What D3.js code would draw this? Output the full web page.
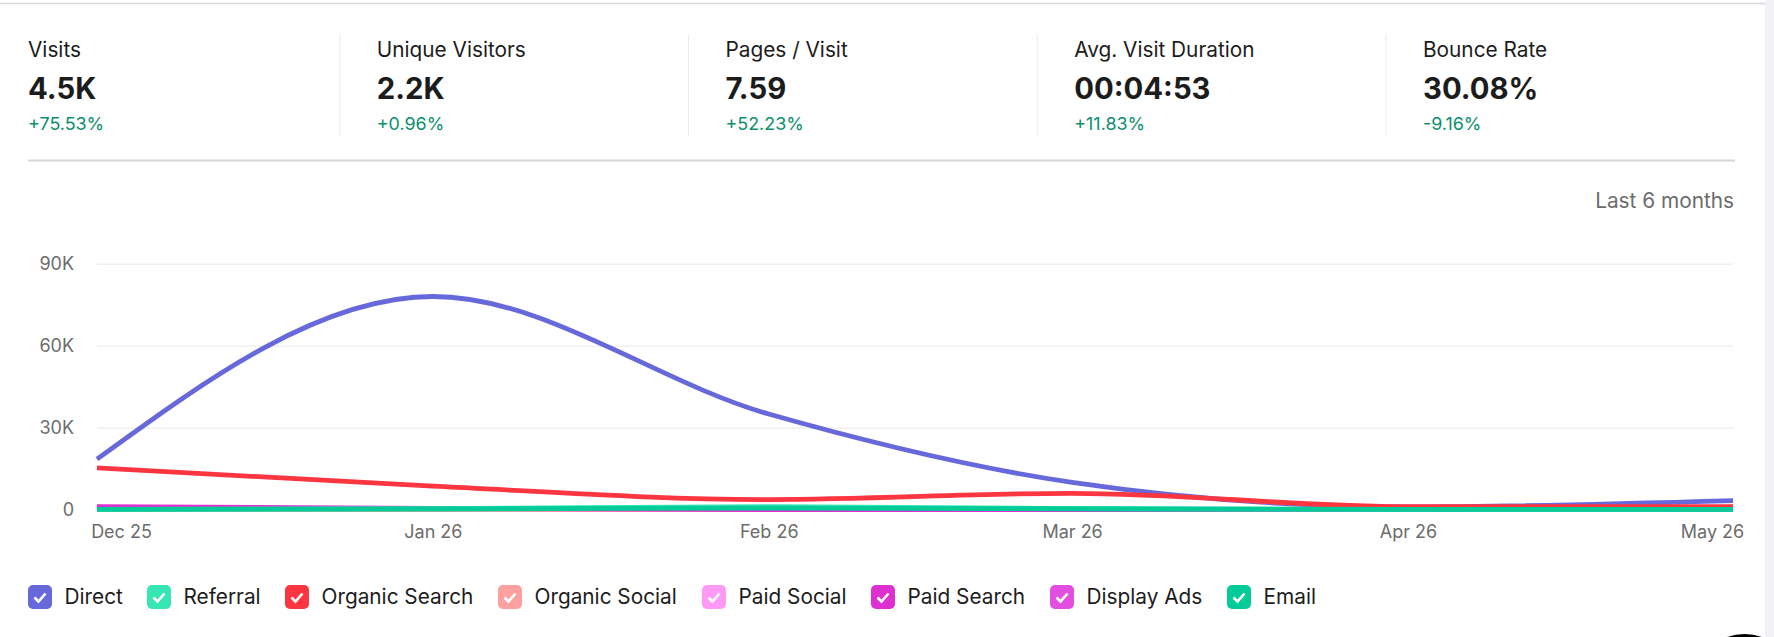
<!DOCTYPE html>
<html><head><meta charset="utf-8">
<script src="https://cdnjs.cloudflare.com/ajax/libs/d3/7.8.5/d3.min.js"></script>
<style>
html,body{margin:0;padding:0;background:#fff;overflow:hidden}
svg{display:block;font-family:Inter,sans-serif}
</style></head><body><svg id="c" width="1774" height="637"></svg>
<script>
// Traffic overview: KPI strip, monthly channel lines, legend.
const months = ["2025-12-01","2026-01-01","2026-02-01","2026-03-01","2026-04-01","2026-05-01"];
const tickLabels = ["Dec 25","Jan 26","Feb 26","Mar 26","Apr 26","May 26"];
const yTicks = [0,30000,60000,90000];

const channels = ["Direct","Referral","Organic Search","Organic Social","Paid Social","Paid Search","Display Ads","Email"];
const channelColors = ["#6769db","#38e6b5","#fb3640","#ffa0a0","#ff99f5","#de2fd0","#e24fe0","#03cc99"];
const direct = [18500,78000,35000,10000,1000,3300];
const referral = [100,400,1100,400,100,100];
const organicSearch = [15300,8600,3700,6000,1100,1100];
const organicSocial = [50,50,50,50,50,50];
const paidSocial = [0,0,0,0,0,0];
const paidSearch = [1100,500,60,60,60,60];
const displayAds = [0,0,0,0,0,0];
const email = [150,250,600,350,100,100];
const channelValues = [direct,referral,organicSearch,organicSocial,paidSocial,paidSearch,displayAds,email];
const drawOrder = [6,4,3,5,0,1,2,7];

const kpiLabels = ["Visits","Unique Visitors","Pages / Visit","Avg. Visit Duration","Bounce Rate"];
const kpiValues = ["4.5K","2.2K","7.59","00:04:53","30.08%"];
const kpiChanges = ["+75.53%","+0.96%","+52.23%","+11.83%","-9.16%"];

const svg = d3.select("#c");
const H = 637;
const ink = "#1c1c1c", muted = "#6c6c6c", up = "#0b8f6c", rule = "#d6d6d6";

// page chrome
svg.append("rect").attr("x",1765).attr("y",0).attr("width",9).attr("height",H).attr("fill","#f1f1f6");
svg.append("line").attr("x1",0).attr("x2",1765).attr("y1",3.5).attr("y2",3.5).attr("stroke",rule).attr("stroke-width",1.5);

// KPI strip
const kpiX = d3.scalePoint().domain(d3.range(5)).range([28,1423]);
const kpi = svg.append("g").selectAll("g").data(kpiLabels).join("g")
  .attr("transform",(d,i)=>`translate(${kpiX(i)},0)`);
kpi.append("text").text(d=>d).attr("y",56.5).attr("font-size",20.8).attr("fill",ink);
kpi.append("text").text((d,i)=>kpiValues[i]).attr("y",99).attr("font-size",29.3).attr("font-weight",700).attr("fill",ink);
kpi.append("text").text((d,i)=>kpiChanges[i]).attr("y",130).attr("font-size",17.9).attr("fill",up);
kpi.filter((d,i)=>i>0).append("line").attr("x1",-37).attr("x2",-37).attr("y1",34).attr("y2",136).attr("stroke","#ececec");
svg.append("line").attr("x1",28).attr("x2",1735).attr("y1",160.5).attr("y2",160.5).attr("stroke",rule).attr("stroke-width",2);

svg.append("text").text("Last 6 months").attr("x",1734).attr("y",208).attr("text-anchor","end").attr("font-size",20.8).attr("fill",muted);

// scales
const dates = months.map(d=>new Date(d+"T00:00:00"));
const x = d3.scaleTime().domain(d3.extent(dates)).range([97,1733]);
const y = d3.scaleLinear().domain([0,90000]).range([509.7,263.7]);

// grid and y axis
const yAxis = svg.append("g").attr("transform","translate(97,0)")
  .call(d3.axisLeft(y).tickValues(yTicks).tickSize(0).tickPadding(23).tickFormat(d=>d===0?"0":d/1000+"K"));
yAxis.select(".domain").remove();
yAxis.selectAll("text").attr("font-size",18).attr("font-family","Inter,sans-serif").attr("fill",muted);
yAxis.selectAll(".tick").append("line").attr("x1",0).attr("x2",1636).attr("stroke","#f0f0f0").attr("stroke-width",1.5);

// x axis: outer labels are pulled inward to stay beside the plot edges
const xAxis = svg.append("g").attr("transform","translate(0,510)")
  .call(d3.axisBottom(x).tickValues(dates).tickSize(0).tickPadding(15).tickFormat((d,i)=>tickLabels[i]));
xAxis.select(".domain").remove();
xAxis.selectAll("text").attr("font-size",18).attr("font-family","Inter,sans-serif").attr("fill",muted)
  .attr("dx",(d,i)=>i===0?24:i===5?-21:0);

// channel lines
const line = d3.line().x((d,i)=>x(dates[i])).y(d=>y(d)).curve(d3.curveMonotoneX);
svg.append("g").attr("fill","none").attr("stroke-width",4.8).attr("stroke-linecap","butt")
  .selectAll("path").data(drawOrder).join("path")
  .attr("d",k=>line(channelValues[k])).attr("stroke",k=>channelColors[k]);

// legend
const legendX = [28,147,285,498,702,871,1050,1227];
const leg = svg.append("g").selectAll("g").data(channels).join("g")
  .attr("transform",(d,i)=>`translate(${legendX[i]},585)`);
leg.append("rect").attr("width",24).attr("height",24).attr("rx",5).attr("fill",(d,i)=>channelColors[i]);
leg.append("path").attr("d","M6.5 12.5l4 4 7-8").attr("fill","none").attr("stroke","#fff").attr("stroke-width",2.6);
leg.append("text").text(d=>d).attr("x",36.5).attr("y",18.5).attr("font-size",20.8).attr("fill",ink);

// floating widget peeking in at the bottom edge
svg.append("circle").attr("cx",1744.5).attr("cy",686).attr("r",52).attr("fill","#000");
</script></body></html>
